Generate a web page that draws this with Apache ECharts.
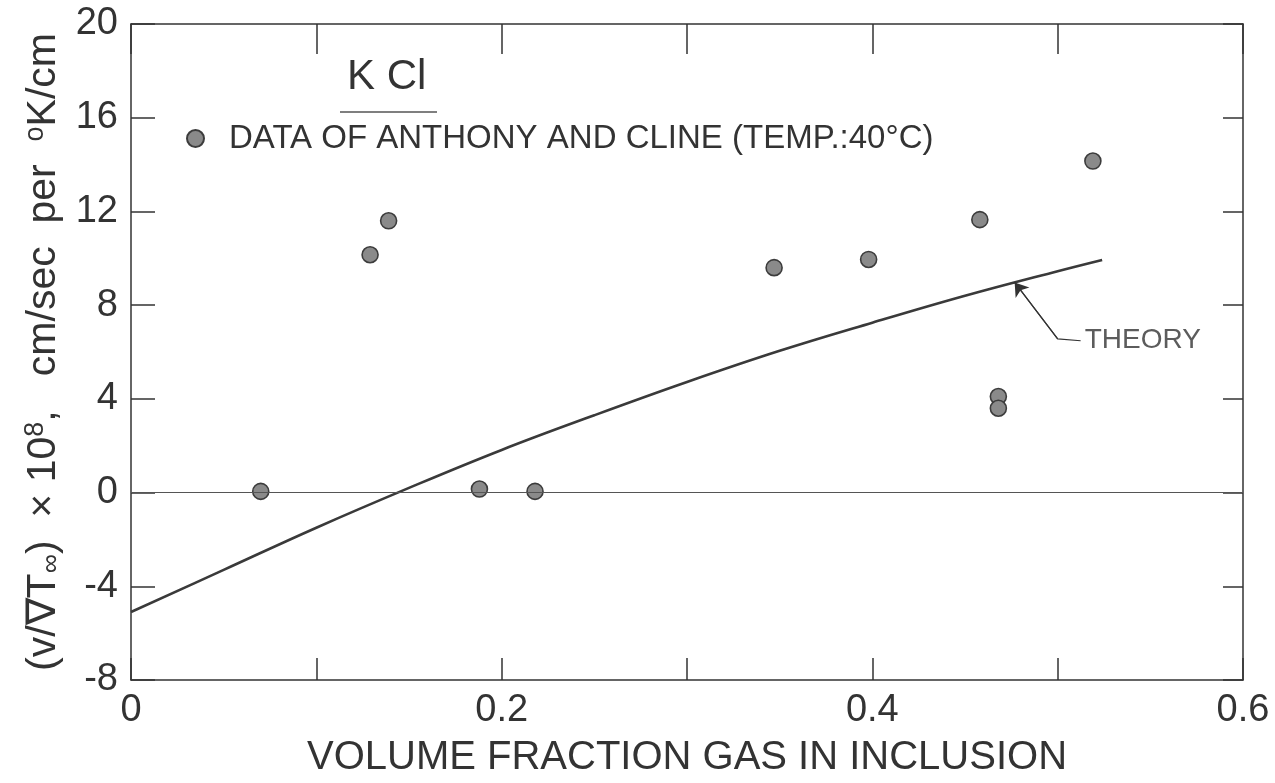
<!DOCTYPE html>
<html>
<head>
<meta charset="utf-8">
<script src="https://cdn.jsdelivr.net/npm/echarts@6/dist/echarts.min.js"></script>
<style>
html,body{margin:0;padding:0;background:#fff;}
#chart{width:1275px;height:783px;}
</style>
</head>
<body>
<div id="chart"></div>
<script>
// Measured data (Anthony and Cline, KCl, 40°C)
const dataX = [0.070, 0.129, 0.139, 0.188, 0.218, 0.347, 0.398, 0.458, 0.468, 0.468, 0.519];
const dataY = [0.05, 10.15, 11.6, 0.15, 0.05, 9.6, 9.95, 11.65, 4.1, 3.6, 14.15];

// Theory curve
const theoryX = [0, 0.05, 0.10, 0.15, 0.20, 0.25, 0.30, 0.35, 0.40, 0.45, 0.50, 0.524];
const theoryY = [-5.1, -3.3, -1.5, 0.2, 1.82, 3.3, 4.72, 6.05, 7.25, 8.4, 9.45, 9.93];

// Annotation anchor (data space): label, leader bend, arrow tip
const theoryLabelPt = [0.5124, 6.48];
const theoryBendPt = [0.500, 6.56];
const theoryTipPt = [0.4768, 8.97];

// Tick labels
const xTickValues = [0, 0.2, 0.4, 0.6];
const xTickLabels = ['0', '0.2', '0.4', '0.6'];
const yTickLabels = ['-8', '-4', '0', '4', '8', '12', '16', '20'];

const legendName = 'DATA OF ANTHONY AND CLINE (TEMP.:40°C)';
const FONT = '"Liberation Sans", Arial, sans-serif';
const INK = '#333';

const chart = echarts.init(document.getElementById('chart'), null, {renderer: 'canvas'});

function xLabel(v) {
  for (let i = 0; i < xTickValues.length; i++) {
    if (Math.abs(v - xTickValues[i]) < 1e-6) return xTickLabels[i];
  }
  return '';
}

const option = {
  animation: false,
  backgroundColor: '#fff',
  grid: {left: 131, top: 24, width: 1112, height: 662, containLabel: false},
  graphic: [
    {type: 'text', left: 347, top: 56, style: {text: 'K Cl', font: '42px ' + FONT, fill: INK}},
    {type: 'line', shape: {x1: 340, y1: 112, x2: 437, y2: 112}, style: {stroke: '#555', lineWidth: 1.5}}
  ],
  legend: {
    data: [legendName],
    left: 181, top: 117,
    itemWidth: 17, itemHeight: 17, itemGap: 10,
    icon: 'circle',
    textStyle: {fontSize: 33, color: INK, fontFamily: FONT, padding: [0, 0, 0, 20]}
  },
  xAxis: [
    {
      type: 'value', min: 0, max: 0.6, interval: 0.1, position: 'bottom',
      name: 'VOLUME FRACTION GAS IN INCLUSION', nameLocation: 'middle', nameGap: 58,
      nameTextStyle: {fontSize: 40, color: INK, fontFamily: FONT},
      axisLine: {show: true, onZero: false, lineStyle: {color: '#333', width: 1.5}},
      axisTick: {show: true, inside: true, length: 22, lineStyle: {color: '#333', width: 1.5}},
      axisLabel: {formatter: xLabel, fontSize: 38, color: INK, fontFamily: FONT, margin: 12, showMaxLabel: true, showMinLabel: true},
      splitLine: {show: false}
    },
    {
      type: 'value', min: 0, max: 0.6, interval: 0.1, position: 'top',
      axisLine: {show: true, onZero: false, lineStyle: {color: '#333', width: 1.5}},
      axisTick: {show: true, inside: true, length: 30, lineStyle: {color: '#333', width: 1.5}},
      axisLabel: {show: false},
      splitLine: {show: false}
    }
  ],
  yAxis: [
    {
      type: 'value', min: -8, max: 20, interval: 4, position: 'left',
      name: '{t|(v/∇T}{sub|∞}{t|)  × 10}{sup|8}{t|,   cm/sec  per  }{sup|o}{t|K/cm}',
      nameLocation: 'middle', nameGap: 64, nameRotate: 90,
      nameTextStyle: {
        rich: {
          t: {fontSize: 41, color: INK, fontFamily: FONT},
          sub: {fontSize: 27, color: INK, fontFamily: FONT, verticalAlign: 'bottom', padding: [16, 0, 0, 0]},
          sup: {fontSize: 27, color: INK, fontFamily: FONT, verticalAlign: 'top', padding: [0, 0, 16, 0]}
        }
      },
      axisLine: {show: true, onZero: false, lineStyle: {color: '#333', width: 1.5}},
      axisTick: {show: true, inside: true, length: 24, lineStyle: {color: '#333', width: 1.5}},
      axisLabel: {
        formatter: function (v) { return yTickLabels[Math.round((v + 8) / 4)] || ''; },
        fontSize: 38, color: INK, fontFamily: FONT, margin: 13
      },
      splitLine: {show: false}
    },
    {
      type: 'value', min: -8, max: 20, interval: 4, position: 'right',
      axisLine: {show: true, onZero: false, lineStyle: {color: '#333', width: 1.5}},
      axisTick: {show: true, inside: true, length: 20, lineStyle: {color: '#333', width: 1.5}},
      axisLabel: {show: false},
      splitLine: {show: false}
    }
  ],
  series: [
    {
      name: 'THEORY',
      type: 'line',
      xAxisIndex: 0, yAxisIndex: 0,
      data: theoryX.map((x, i) => [x, theoryY[i]]),
      showSymbol: false, symbol: 'none', smooth: 0.4,
      lineStyle: {color: '#3a3a3a', width: 2.6},
      z: 3
    },
    {
      name: legendName,
      type: 'scatter',
      xAxisIndex: 0, yAxisIndex: 0,
      data: dataX.map((x, i) => [x, dataY[i]]),
      symbol: 'circle', symbolSize: 16,
      itemStyle: {color: '#8a8a8a', borderColor: '#3c3c3c', borderWidth: 1.6, opacity: 1},
      markLine: {
        silent: true, symbol: 'none', animation: false,
        label: {show: false},
        lineStyle: {color: '#555', width: 1.2, type: 'solid'},
        data: [{yAxis: 0}]
      },
      z: 4
    },
    {
      name: 'theory-leader',
      type: 'line',
      xAxisIndex: 0, yAxisIndex: 0,
      data: [theoryLabelPt, theoryBendPt, theoryTipPt],
      showSymbol: false, symbol: 'none',
      lineStyle: {color: '#333', width: 1.2},
      z: 5
    },
    {
      name: 'theory-arrow',
      type: 'lines',
      coordinateSystem: 'cartesian2d',
      xAxisIndex: 0, yAxisIndex: 0,
      symbol: ['none', 'arrow'], symbolSize: 13,
      data: [{coords: [theoryBendPt, theoryTipPt]}],
      lineStyle: {color: '#333', width: 1.2, opacity: 1},
      z: 5
    },
    {
      name: 'theory-label',
      type: 'scatter',
      xAxisIndex: 0, yAxisIndex: 0,
      data: [theoryLabelPt],
      symbolSize: 0,
      label: {show: true, position: 'right', distance: 4, formatter: 'THEORY', fontSize: 28, color: INK, fontFamily: FONT},
      z: 5
    }
  ]
};
chart.setOption(option);
</script>
</body>
</html>
